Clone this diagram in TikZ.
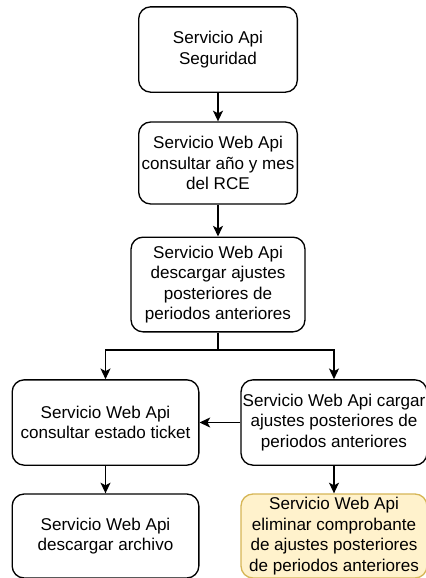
\documentclass[tikz,border=0pt]{standalone}
\usepackage{fontspec}
\setmainfont{Liberation Sans}
\usetikzlibrary{arrows,arrows.meta}

\definecolor{notefill}{HTML}{FFF2CC}
\definecolor{notedraw}{HTML}{D6B656}

\tikzset{
	svcbox/.style={draw=black,line width=1pt,rounded corners=9pt,align=center,
		inner sep=0pt,font=\fontsize{12.8}{15.4}\selectfont},
	flow/.style={line width=1pt,-{Stealth[length=8pt,width=7.5pt,inset=2pt]}},
}

\begin{document}
\begin{tikzpicture}[x=0.75pt,y=-0.75pt]
	\useasboundingbox (0,0) rectangle (425,578);
	
	%TOP COLUMN
	\node[svcbox,minimum width=119pt,minimum height=64pt] (seguridad) at (218,49.5)
		{Servicio Api\\Seguridad};
	\node[svcbox,minimum width=119pt,minimum height=61.5pt] (consultar) at (218,163)
		{Servicio Web Api\\consultar año y mes\\del RCE};
	\node[svcbox,minimum width=130.5pt,minimum height=71pt] (descargar) at (218,284.5)
		{Servicio Web Api\\descargar ajustes\\posteriores de\\periodos anteriores};
	
	%MIDDLE ROW
	\node[svcbox,minimum width=140pt,minimum height=64pt] (estado) at (105.5,422.5)
		{Servicio Web Api\\consultar estado ticket};
	\node[svcbox,minimum width=139.5pt,minimum height=64pt] (cargar) at (334,422.5)
		{Servicio Web Api cargar\\ajustes posteriores de\\periodos anteriores};
	
	%BOTTOM ROW
	\node[svcbox,minimum width=140pt,minimum height=63pt] (archivo) at (105.5,536)
		{Servicio Web Api\\descargar archivo};
	\node[svcbox,draw=notedraw,fill=notefill,minimum width=139.5pt,minimum height=63pt] (eliminar) at (334,536)
		{Servicio Web Api\\eliminar comprobante\\de ajustes posteriores\\de periodos anteriores};
	
	%ARROWS
	\coordinate (split) at (descargar.south |- 0,350);
	\draw[flow] (seguridad) -- (consultar);
	\draw[flow] (consultar) -- (descargar);
	\draw[line width=1pt] (descargar) -- (split);
	\draw[flow] (split) -| (estado);
	\draw[flow] (split) -| (cargar);
	\draw[flow] (cargar) -- (estado);
	\draw[flow] (estado) -- (archivo);
	\draw[flow] (cargar) -- (eliminar);
\end{tikzpicture}
\end{document}
